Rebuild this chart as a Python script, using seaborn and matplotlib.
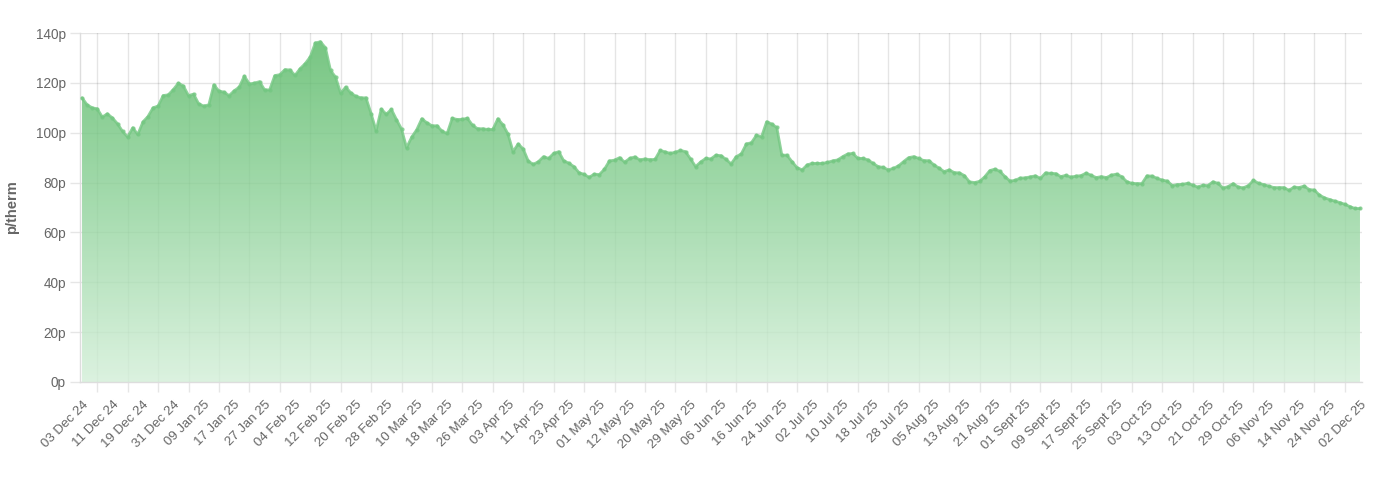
import numpy as np
import matplotlib
matplotlib.use('Agg')
import matplotlib.pyplot as plt
import seaborn as sns
from matplotlib.colors import LinearSegmentedColormap

# ================= 資料 =================
# one label every 6 trading days
tick_labels = [
    '03 Dec 24', '11 Dec 24', '19 Dec 24', '31 Dec 24', '09 Jan 25', '17 Jan 25',
    '27 Jan 25', '04 Feb 25', '12 Feb 25', '20 Feb 25', '28 Feb 25', '10 Mar 25',
    '18 Mar 25', '26 Mar 25', '03 Apr 25', '11 Apr 25', '23 Apr 25', '01 May 25',
    '12 May 25', '20 May 25', '29 May 25', '06 Jun 25', '16 Jun 25', '24 Jun 25',
    '02 Jul 25', '10 Jul 25', '18 Jul 25', '28 Jul 25', '05 Aug 25', '13 Aug 25',
    '21 Aug 25', '01 Sept 25', '09 Sept 25', '17 Sept 25', '25 Sept 25', '03 Oct 25',
    '13 Oct 25', '21 Oct 25', '29 Oct 25', '06 Nov 25', '14 Nov 25', '24 Nov 25',
    '02 Dec 25',
]

# daily price, p/therm
prices = [
    114.0, 111.2, 110.0, 109.6, 106.3, 107.6, 105.9, 103.6, 100.5, 98.3,
    102.0, 99.3, 104.3, 106.5, 110.0, 110.7, 114.9, 115.2, 117.3, 119.9,
    118.7, 114.9, 115.5, 111.6, 110.7, 111.2, 119.2, 116.7, 116.3, 114.9,
    116.8, 118.3, 122.7, 119.6, 119.9, 120.5, 117.2, 117.2, 122.9, 123.3,
    125.3, 125.2, 123.0, 125.7, 127.7, 130.4, 136.0, 136.5, 134.1, 125.0,
    122.3, 115.9, 118.3, 116.0, 114.6, 114.0, 114.0, 107.7, 100.8, 109.5,
    107.4, 109.4, 105.3, 101.5, 94.0, 98.2, 101.2, 105.6, 104.0, 102.8,
    102.8, 100.6, 99.7, 105.8, 105.3, 105.4, 105.8, 103.0, 101.6, 101.6,
    101.3, 101.3, 105.6, 103.2, 99.5, 92.4, 95.5, 93.5, 88.6, 87.3,
    88.4, 90.4, 89.7, 91.7, 92.4, 88.7, 87.8, 86.4, 84.0, 83.3,
    82.1, 83.4, 83.2, 85.3, 88.7, 89.0, 90.0, 88.2, 89.7, 90.3,
    89.1, 89.5, 89.2, 89.3, 92.9, 92.3, 91.7, 92.2, 92.9, 92.4,
    89.5, 86.4, 88.3, 89.7, 89.5, 91.0, 90.8, 89.3, 87.5, 90.4,
    91.5, 95.5, 96.0, 99.0, 98.4, 104.4, 103.5, 102.1, 91.0, 91.0,
    88.4, 86.0, 85.1, 87.1, 87.7, 87.7, 87.7, 88.1, 88.7, 89.1,
    90.4, 91.5, 91.7, 89.7, 89.7, 89.1, 87.7, 86.4, 86.1, 85.1,
    85.7, 86.7, 88.4, 90.0, 90.4, 89.7, 88.8, 88.8, 87.1, 85.8,
    84.4, 85.1, 84.0, 83.9, 82.8, 80.3, 80.0, 80.5, 82.3, 84.8,
    85.4, 84.5, 82.4, 80.6, 80.9, 81.8, 81.9, 82.3, 82.7, 81.7,
    83.9, 83.7, 83.6, 82.4, 82.9, 82.2, 82.6, 82.8, 83.8, 82.9,
    82.0, 82.4, 82.0, 83.0, 83.4, 82.4, 80.4, 79.7, 79.6, 79.6,
    82.7, 82.6, 81.7, 81.0, 80.6, 78.8, 79.2, 79.3, 79.7, 79.0,
    78.2, 78.9, 78.8, 80.3, 79.7, 77.8, 78.4, 79.6, 78.2, 77.9,
    78.8, 80.9, 79.7, 79.2, 78.6, 78.0, 78.0, 78.0, 76.9, 78.2,
    78.0, 78.6, 77.2, 77.0, 75.0, 73.9, 73.2, 72.6, 72.0, 71.3,
    70.4, 69.6, 69.6,
]

y_ticks = [0, 20, 40, 60, 80, 100, 120, 140]
LABEL_STEP = 6
# =========================================

sns.set_theme(style='white')
plt.rcParams['font.family'] = ['Liberation Sans', 'DejaVu Sans']

fig = plt.figure(figsize=(13.94, 4.86), dpi=100)
ax = fig.add_axes([80 / 1394, 1 - 382 / 486, (1362 - 80) / 1394, (382 - 33) / 486])

x = np.arange(len(prices))
x_min, x_max = -0.4, len(prices) - 1 + 0.4
y_max = y_ticks[-1]

# gradient fill under the curve (semi-transparent so the grid shows faintly)
poly = ax.fill_between(x, prices, 0, color='none', linewidth=0)
cmap = LinearSegmentedColormap.from_list('green_fade', ['#d3efd8', '#90d39b', '#54b762'])
grad = np.linspace(0, 1, 256).reshape(-1, 1)
im = ax.imshow(grad, extent=[x_min, x_max, 0, y_max], origin='lower',
               aspect='auto', cmap=cmap, alpha=0.8, zorder=1)
im.set_clip_path(poly.get_paths()[0], transform=ax.transData)

sns.lineplot(x=x, y=prices, ax=ax, color='#74c782', linewidth=2.0, alpha=0.8,
             marker='o', markersize=3, markeredgewidth=0, zorder=3)

ax.set_xlim(x_min, x_max)
ax.set_ylim(0, y_max)

grid_kw = dict(color='black', alpha=0.1, linewidth=1)

# labels every 6 points, grid lines half-way between labels
label_pos = np.arange(0, len(prices), LABEL_STEP)
ax.set_xticks(label_pos)
ax.set_xticklabels(tick_labels, rotation=45, ha='right', rotation_mode='anchor',
                   fontsize=9.5, color='#666666')
ax.set_xticks(label_pos[:-1] + LABEL_STEP / 2, minor=True)
ax.tick_params(axis='x', which='major', length=0, pad=12)
ax.tick_params(axis='x', which='minor', length=7, width=1, color='#e6e6e6', bottom=True)

ax.set_yticks(y_ticks)
ax.set_yticklabels([f'{v}p' for v in y_ticks], fontsize=9.8, color='#666666')
ax.tick_params(axis='y', which='major', length=7, width=1, color='#e6e6e6', pad=3, left=True)

ax.set_axisbelow(True)
ax.grid(False)
ax.grid(axis='y', which='major', **grid_kw)
ax.grid(axis='x', which='minor', **grid_kw)

for side in ['top', 'right']:
    ax.spines[side].set_visible(False)
for side in ['left', 'bottom']:
    ax.spines[side].set_color('#dddddd')
    ax.spines[side].set_linewidth(1)

ax.set_ylabel('p/therm', fontsize=10.5, fontweight='bold', color='#666666', labelpad=12)

fig.savefig('out.png', dpi=100)
